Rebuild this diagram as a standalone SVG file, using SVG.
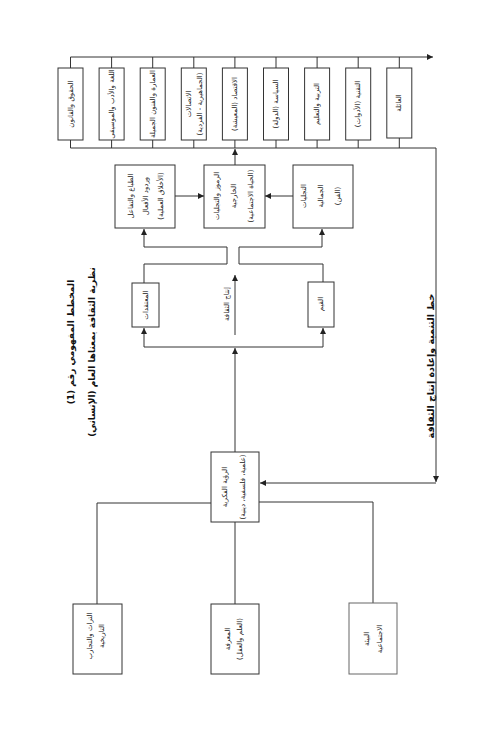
<svg xmlns="http://www.w3.org/2000/svg" width="488" height="756" viewBox="0 0 488 756">
<style>
.b{fill:#fff;stroke:#333;stroke-width:1}
.l{fill:none;stroke:#333;stroke-width:1}
.t{font-family:"DejaVu Sans",sans-serif;font-size:7px;fill:#222;text-anchor:middle;dominant-baseline:central}
.h{font-family:"DejaVu Sans",sans-serif;font-size:9.5px;font-weight:bold;fill:#111;text-anchor:middle;dominant-baseline:central}
.ht{font-size:9px}
</style>
<defs>
<marker id="a" viewBox="0 0 10 10" refX="10" refY="5" markerWidth="6" markerHeight="6" orient="auto" markerUnits="userSpaceOnUse">
<path d="M0,0 L10,5 L0,10 z" fill="#222"/>
</marker>
</defs>
<rect width="488" height="756" fill="#fff"/>

<g id="title">
<text class="h ht" transform="translate(71,342) rotate(-90)">المخطط المفهومي رقم (1)</text>
<text class="h ht" transform="translate(92,352) rotate(-90)">نظرية الثقافة بمعناها العام (الإنساني)</text>
</g>
<g id="feedback-label">
<text class="h" transform="translate(430,366) rotate(-90)">خط التنمية وإعادة إنتاج الثقافة</text>
</g>

<g id="connectors">
<path class="l" d="M70.5,57 H433" marker-end="url(#a)"/>
<path class="l" d="M70.5,57V68 M111.6,57V68 M152.7,57V68 M193.8,57V68 M234.9,57V68 M276,57V68 M317.1,57V68 M358.2,57V68 M399.3,57V68"/>
<path class="l" d="M70.5,140V148 M111.6,140V148 M152.7,140V148 M193.8,140V148 M234.9,140V148 M276,140V148 M317.1,140V148 M358.2,140V148 M399.3,138V148"/>
<path class="l" d="M70.5,148 H436"/>
<path class="l" d="M436,148 V482" marker-end="url(#a)"/>
<path class="l" d="M436,483 H260" marker-end="url(#a)"/>
<path class="l" d="M235,165 V149" marker-end="url(#a)"/>
<path class="l" d="M175,196 H204" marker-end="url(#a)"/>
<path class="l" d="M293,196 H265" marker-end="url(#a)"/>
<path class="l" d="M144,283 V264 H227 V247 H144 V229" marker-end="url(#a)"/>
<path class="l" d="M323,282 V264 H239 V247 H322 V229" marker-end="url(#a)"/>
<path class="l" d="M144,347 H323"/>
<path class="l" d="M144,347 V328" marker-end="url(#a)"/>
<path class="l" d="M323,347 V328" marker-end="url(#a)"/>
<path class="l" d="M235,335 V275" marker-end="url(#a)"/>
<path class="l" d="M235,452 V348" marker-end="url(#a)"/>
<path class="l" d="M211,503 H97 V604"/>
<path class="l" d="M259,502 H373 V603"/>
<path class="l" d="M235,522 V604"/>
</g>

<g id="n-law"><rect class="b" x="58" y="68" width="25" height="72"/><text class="t" transform="translate(70.5,104) rotate(-90)">الحقوق والقانون</text></g>
<g id="n-language"><rect class="b" x="99.1" y="68" width="25" height="72"/><text class="t" transform="translate(111.6,104) rotate(-90)">اللغة والأدب والموسيقى</text></g>
<g id="n-architecture"><rect class="b" x="140.2" y="68" width="25" height="72"/><text class="t" transform="translate(152.7,104) rotate(-90)">العمارة والفنون الجميلة</text></g>
<g id="n-communication"><rect class="b" x="181.3" y="68" width="25" height="72"/><text class="t" transform="translate(188.5,104) rotate(-90)">الاتصالات</text><text class="t" transform="translate(200,104) rotate(-90)">(الجماهيرية - الفردية)</text></g>
<g id="n-economy"><rect class="b" x="222.4" y="68" width="25" height="72"/><text class="t" transform="translate(234.9,104) rotate(-90)">الاقتصاد (المعيشة)</text></g>
<g id="n-politics"><rect class="b" x="263.5" y="68" width="25" height="72"/><text class="t" transform="translate(276,104) rotate(-90)">السياسة (الدولة)</text></g>
<g id="n-education"><rect class="b" x="304.6" y="68" width="25" height="72"/><text class="t" transform="translate(317.1,104) rotate(-90)">التربية والتعليم</text></g>
<g id="n-technology"><rect class="b" x="345.7" y="68" width="25" height="72"/><text class="t" transform="translate(358.2,104) rotate(-90)">التقنية (الأدوات)</text></g>
<g id="n-family"><rect class="b" x="386.8" y="68" width="25" height="70"/><text class="t" transform="translate(399.3,103) rotate(-90)">العائلة</text></g>

<g id="n-manners"><rect class="b" x="115" y="165" width="60" height="63"/>
<text class="t" transform="translate(131,196) rotate(-90)">الطباع والتفاعل</text>
<text class="t" transform="translate(146,196) rotate(-90)">وردود الأفعال</text>
<text class="t" transform="translate(161,196) rotate(-90)">(الأخلاق العملية)</text></g>
<g id="n-symbols"><rect class="b" x="204" y="165" width="61" height="63"/>
<text class="t" transform="translate(217,196) rotate(-90)">الرموز والتجليات</text>
<text class="t" transform="translate(234,196) rotate(-90)">الخارجية</text>
<text class="t" transform="translate(251,196) rotate(-90)">(الحياة الاجتماعية)</text></g>
<g id="n-aesthetic"><rect class="b" x="293" y="165" width="60" height="63"/>
<text class="t" transform="translate(304,196) rotate(-90)">التجليات</text>
<text class="t" transform="translate(321,196) rotate(-90)">الجمالية</text>
<text class="t" transform="translate(338,196) rotate(-90)">(الفن)</text></g>

<g id="n-beliefs"><rect class="b" x="132" y="283" width="27" height="44"/><text class="t" transform="translate(145.5,305) rotate(-90)">المعتقدات</text></g>
<g id="n-production"><text class="t" transform="translate(227,304) rotate(-90)">إنتاج الثقافة</text></g>
<g id="n-values"><rect class="b" x="308" y="282" width="26" height="45"/><text class="t" transform="translate(321,304) rotate(-90)">القيم</text></g>

<g id="n-vision"><rect class="b" x="211" y="452" width="48" height="70"/>
<text class="t" transform="translate(225,487) rotate(-90)">الرؤية الفكرية</text>
<text class="t" transform="translate(243,487) rotate(-90)">(علمية، فلسفية، دينية)</text></g>

<g id="n-heritage"><rect class="b" x="73" y="604" width="49" height="70"/>
<text class="t" transform="translate(90,636) rotate(-90)">التراث والتجارب</text>
<text class="t" transform="translate(102,636) rotate(-90)">التاريخية</text></g>
<g id="n-knowledge"><rect class="b" x="211" y="604" width="48" height="70"/>
<text class="t" transform="translate(228,639) rotate(-90)">المعرفة</text>
<text class="t" transform="translate(240,639) rotate(-90)">(العلم والعقل)</text></g>
<g id="n-environment"><rect class="b" x="349" y="603" width="48" height="71" style="stroke:#666"/>
<text class="t" transform="translate(367,639) rotate(-90)">البيئة</text>
<text class="t" transform="translate(380,639) rotate(-90)">الاجتماعية</text></g>
</svg>
